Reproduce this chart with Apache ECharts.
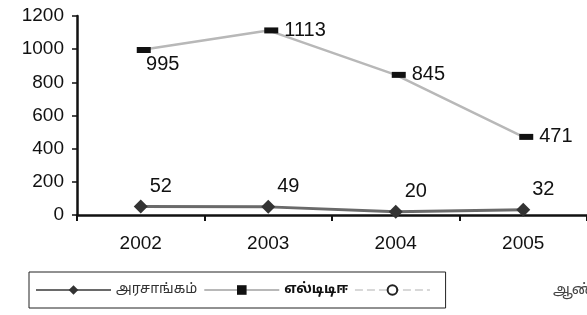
<!DOCTYPE html>
<html lang="ta">
<head>
<meta charset="UTF-8">
<script src="https://cdn.jsdelivr.net/npm/echarts@6/dist/echarts.min.js"></script>
<style>
  html, body { margin: 0; padding: 0; background: #fff; }
  #chart { width: 587px; height: 315px; }
</style>
</head>
<body>
<div id="chart"></div>
<script>
var years = ['2002', '2003', '2004', '2005'];
var govt = [52, 49, 20, 32];
var ltte = [995, 1113, 845, 471];
var yTicks = [0, 200, 400, 600, 800, 1000, 1200];

var chart = echarts.init(document.getElementById('chart'));
var font = 'Liberation Sans, Arial, sans-serif';
var tamil = 'Noto Sans Tamil, Noto Sans, sans-serif';

var option = {
    backgroundColor: '#fff',
    animation: false,
    grid: { left: 77, right: -2, top: 16, bottom: 100, containLabel: false },
    legend: {
        left: 29, top: 272,
        borderColor: '#222', borderWidth: 1,
        padding: [11, 7, 11, 6],
        itemWidth: 75, itemHeight: 12, itemGap: 6,
        textStyle: { fontSize: 14, color: '#333', fontFamily: tamil },
        data: [
            'அரசாங்கம்',
            { name: 'எல்டிடிஈ', textStyle: { fontWeight: 'bold', color: '#111' } },
            ' '
        ]
    },
    xAxis: {
        type: 'category',
        data: years,
        boundaryGap: true,
        axisLine: { lineStyle: { color: '#111', width: 2.5 } },
        axisTick: { show: true, length: 6, lineStyle: { color: '#111', width: 2 } },
        axisLabel: { fontSize: 19, color: '#111', margin: 19, fontFamily: font },
        splitLine: { show: false }
    },
    yAxis: {
        type: 'value',
        min: 0, max: 1200, interval: 200,
        axisLine: { show: true, lineStyle: { color: '#111', width: 2.5 } },
        axisTick: { show: true, length: 5, lineStyle: { color: '#111', width: 1.5 } },
        axisLabel: {
            fontSize: 19, color: '#111', margin: 13, fontFamily: font,
            formatter: function (v) { return yTicks.indexOf(v) >= 0 ? String(v) : ''; }
        },
        splitLine: { show: false }
    },
    series: [
        {
            name: 'அரசாங்கம்',
            type: 'line',
            data: govt,
            symbol: 'diamond',
            symbolSize: 14,
            itemStyle: { color: '#333' },
            lineStyle: { color: '#6a6a6a', width: 3 },
            label: {
                show: true, position: 'top', offset: [20, 2],
                fontSize: 20, color: '#111', fontFamily: font
            }
        },
        {
            name: 'எல்டிடிஈ',
            type: 'line',
            data: ltte,
            symbol: 'rect',
            symbolSize: [14, 6],
            symbolOffset: [3, 0],
            itemStyle: { color: '#111' },
            lineStyle: { color: '#b8b8b8', width: 2.5 },
            label: {
                show: true, position: 'right', distance: 6,
                fontSize: 20, color: '#111', fontFamily: font,
                formatter: function (p) { return p.dataIndex === 0 ? '' : p.value; }
            },
            markPoint: {
                symbol: 'circle', symbolSize: 0,
                label: { show: true, fontSize: 20, color: '#111', fontFamily: font, offset: [22, 14] },
                data: [{ coord: [0, ltte[0]], value: ltte[0] }]
            }
        },
        {
            name: ' ',
            type: 'line',
            data: [],
            symbol: 'emptyCircle',
            symbolSize: 11,
            itemStyle: { color: '#222', borderWidth: 2 },
            lineStyle: { color: '#d8d8d8', width: 2, type: 'dashed' }
        }
    ],
    graphic: [
        {
            type: 'text', left: 553, top: 283,
            style: { text: 'ஆண்டு', fontSize: 15, fill: '#444', fontFamily: tamil }
        }
    ]
};
chart.setOption(option);
</script>
</body>
</html>
